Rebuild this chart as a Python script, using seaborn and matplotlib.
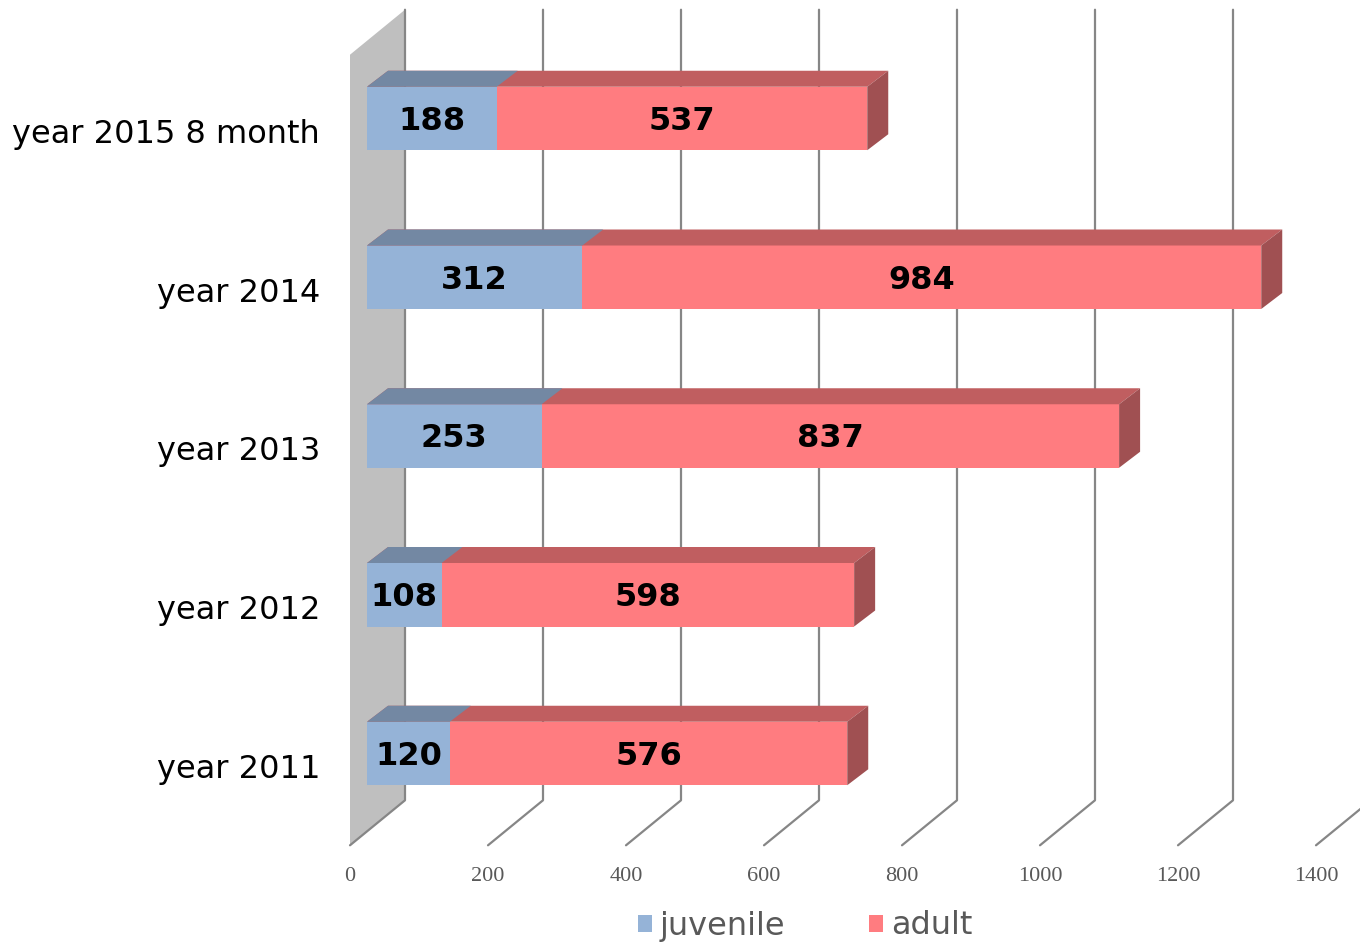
import matplotlib
matplotlib.use("Agg")
import matplotlib.pyplot as plt
import pandas as pd
import seaborn as sns
from matplotlib.patches import Polygon
from matplotlib.lines import Line2D
from matplotlib.transforms import offset_copy, IdentityTransform

# ---------------- data ----------------
categories = ["year 2015 8 month", "year 2014", "year 2013", "year 2012", "year 2011"]
juvenile = [188, 312, 253, 108, 120]
adult = [537, 984, 837, 598, 576]
x_ticks = [0, 200, 400, 600, 800, 1000, 1200, 1400]
series_names = ["juvenile", "adult"]

# ---------------- style ----------------
sns.set_style("white")
plt.rcParams["font.family"] = ["DejaVu Sans"]

BLUE, BLUE_TOP = "#95B3D7", "#7388A3"
RED, RED_TOP, RED_SIDE = "#FF7C80", "#C05E60", "#A05052"
WALL = "#BFBFBF"
GRID = "#868686"
TXT_GRAY = "#595959"

DPI = 100
W, H = 1360, 944
fig = plt.figure(figsize=(W / DPI, H / DPI), dpi=DPI)
ax = fig.add_axes([0, 0, 1, 1])

total = [j + a for j, a in zip(juvenile, adult)]
df = pd.DataFrame({"category": categories, "juvenile": juvenile,
                   "adult": adult, "total": total})

sns.barplot(data=df, x="total", y="category", orient="h", color=RED,
            saturation=1, width=0.4, ax=ax, label="adult", zorder=3,
            linewidth=0, errorbar=None)
sns.barplot(data=df, x="juvenile", y="category", orient="h", color=BLUE,
            saturation=1, width=0.4, ax=ax, label="juvenile", zorder=3,
            linewidth=0, errorbar=None)
h, l = ax.get_legend_handles_labels()
if ax.get_legend() is not None:
    ax.get_legend().remove()

n = len(categories)
adult_patches = ax.patches[:n]
juv_patches = ax.patches[n:2 * n]

# layout (pixel geometry of the pseudo-3D view)
PX_PER_UNIT = 0.69
X0_PX, Y0_PX, ROW_PX = 367, 118.5, 158.75
ax.set_xlim(-X0_PX / PX_PER_UNIT, (W - X0_PX) / PX_PER_UNIT)
ax.set_ylim((H - Y0_PX) / ROW_PX, -Y0_PX / ROW_PX)
ax.set_axis_off()

BACK = (38, 31)
FRONT = (-17, -14)
DEPTH = (21, 16)


def disp(x, y, off=(0, 0)):
    px, py = ax.transData.transform((x, y))
    return (px + off[0], py + off[1])


ID = IdentityTransform()
ylo, yhi = -0.49, n - 1 + 0.49

# back wall
wall = [disp(0, ylo, BACK), disp(0, yhi, BACK), disp(0, yhi, FRONT), disp(0, ylo, FRONT)]
ax.add_patch(Polygon(wall, closed=True, transform=ID, facecolor=WALL,
                     edgecolor="none", zorder=0.5))

# gridlines on back plane + floor diagonals
for v in x_ticks:
    p1, p2, p3 = disp(v, ylo, BACK), disp(v, yhi, BACK), disp(v, yhi, FRONT)
    ax.add_line(Line2D([p1[0], p2[0], p3[0]], [p1[1], p2[1], p3[1]],
                       transform=ID, color=GRID, lw=1.6, zorder=1))
    ax.text(v, yhi, f"{v}",
            transform=offset_copy(ax.transData, fig=fig, x=FRONT[0], y=FRONT[1] - 31, units="dots"),
            ha="center", va="center", fontsize=16, family="Liberation Serif",
            color=TXT_GRAY)

# category labels
for i, c in enumerate(categories):
    ax.text(0, i, c,
            transform=offset_copy(ax.transData, fig=fig, x=FRONT[0] - 30, y=FRONT[1] - 2, units="dots"),
            ha="right", va="center", fontsize=23, color="black")


def top_face(p, color):
    x0, x1 = p.get_x(), p.get_x() + p.get_width()
    yt = p.get_y()
    pts = [disp(x0, yt), disp(x1, yt), disp(x1, yt, DEPTH), disp(x0, yt, DEPTH)]
    ax.add_patch(Polygon(pts, closed=True, transform=ID, facecolor=color,
                         edgecolor="none", zorder=3))


for p in adult_patches:
    top_face(p, RED_TOP)
    x1 = p.get_x() + p.get_width()
    yt, yb = p.get_y(), p.get_y() + p.get_height()
    pts = [disp(x1, yt), disp(x1, yb), disp(x1, yb, DEPTH), disp(x1, yt, DEPTH)]
    ax.add_patch(Polygon(pts, closed=True, transform=ID, facecolor=RED_SIDE,
                         edgecolor="none", zorder=3))
for p in juv_patches:
    top_face(p, BLUE_TOP)

# value labels
lab_tr = offset_copy(ax.transData, fig=fig, x=0, y=-3, units="dots")
for pj, pa, j, a in zip(juv_patches, adult_patches, juvenile, adult):
    yc = pj.get_y() + pj.get_height() / 2
    ax.text(pj.get_x() + pj.get_width() / 2, yc, f"{j}", ha="center", va="center",
            fontsize=23, fontweight="bold", color="black", zorder=5, transform=lab_tr)
    xs = pj.get_x() + pj.get_width()
    xe = pa.get_x() + pa.get_width()
    ax.text((xs + xe) / 2, yc, f"{a}", ha="center", va="center",
            fontsize=23, fontweight="bold", color="black", zorder=5, transform=lab_tr)

# legend
order = [l.index(s) for s in series_names]
fig.legend([h[i] for i in order], [l[i] for i in order], loc="center",
           bbox_to_anchor=(805 / W, 1 - 926 / H), ncol=2, frameon=False,
           fontsize=23, labelcolor=TXT_GRAY, handlelength=0.45, handleheight=0.45,
           handletextpad=0.25, columnspacing=2.6)

fig.savefig("out.png", dpi=DPI)
